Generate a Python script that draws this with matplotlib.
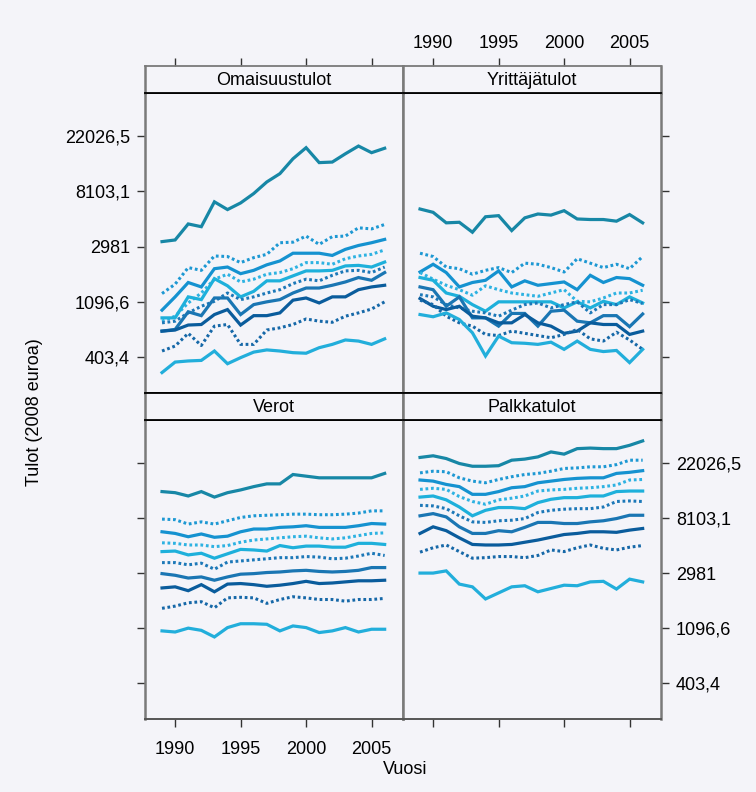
import matplotlib
matplotlib.use("Agg")
import matplotlib.pyplot as plt

plt.rcParams['font.family'] = ['Liberation Sans', 'DejaVu Sans']

years = list(range(1989, 2007))
panel_names = ["Omaisuustulot", "Yrittäjätulot", "Verot", "Palkkatulot"]

# natural log of income (2008 euros), 10 groups per panel, top line first
omaisuustulot = [
    [8.09, 8.12, 8.41, 8.36, 8.81, 8.67, 8.79, 8.96, 9.17, 9.32, 9.59, 9.79, 9.52, 9.53, 9.68, 9.82, 9.70, 9.78],
    [7.15, 7.32, 7.62, 7.57, 7.83, 7.82, 7.71, 7.80, 7.86, 8.07, 8.08, 8.19, 8.04, 8.18, 8.19, 8.34, 8.32, 8.40],
    [6.85, 7.09, 7.35, 7.27, 7.60, 7.63, 7.51, 7.57, 7.67, 7.74, 7.88, 7.88, 7.88, 7.84, 7.95, 8.02, 8.07, 8.13],
    [6.65, 6.74, 6.98, 7.16, 7.41, 7.50, 7.36, 7.41, 7.50, 7.53, 7.60, 7.71, 7.71, 7.68, 7.78, 7.83, 7.86, 7.94],
    [6.71, 6.71, 7.09, 7.04, 7.42, 7.29, 7.09, 7.19, 7.38, 7.38, 7.47, 7.56, 7.56, 7.57, 7.65, 7.66, 7.63, 7.72],
    [6.62, 6.65, 6.80, 6.92, 7.01, 7.16, 7.04, 7.09, 7.16, 7.22, 7.33, 7.41, 7.38, 7.48, 7.56, 7.57, 7.53, 7.63],
    [6.47, 6.50, 6.82, 6.75, 7.07, 7.07, 6.77, 6.95, 7.00, 7.04, 7.16, 7.25, 7.25, 7.30, 7.36, 7.44, 7.39, 7.53],
    [6.47, 6.49, 6.58, 6.59, 6.77, 6.86, 6.58, 6.75, 6.75, 6.80, 7.03, 7.07, 6.98, 7.09, 7.09, 7.22, 7.27, 7.30],
    [6.11, 6.20, 6.43, 6.21, 6.56, 6.59, 6.23, 6.23, 6.49, 6.53, 6.59, 6.69, 6.65, 6.63, 6.74, 6.80, 6.87, 7.00],
    [5.72, 5.91, 5.93, 5.94, 6.11, 5.88, 5.99, 6.09, 6.13, 6.11, 6.08, 6.07, 6.17, 6.23, 6.31, 6.29, 6.23, 6.33],
]

yrittajatulot = [
    [8.68, 8.62, 8.43, 8.44, 8.26, 8.54, 8.56, 8.29, 8.52, 8.59, 8.57, 8.65, 8.50, 8.49, 8.49, 8.46, 8.58, 8.43],
    [7.88, 7.82, 7.63, 7.60, 7.50, 7.57, 7.62, 7.53, 7.70, 7.68, 7.62, 7.54, 7.78, 7.70, 7.62, 7.68, 7.60, 7.82],
    [7.54, 7.68, 7.53, 7.27, 7.35, 7.39, 7.56, 7.27, 7.38, 7.30, 7.33, 7.36, 7.22, 7.48, 7.35, 7.44, 7.42, 7.30],
    [7.53, 7.41, 7.30, 7.22, 7.12, 7.29, 7.22, 7.16, 7.13, 7.10, 7.16, 7.22, 7.01, 7.00, 7.07, 7.16, 7.16, 7.21],
    [7.44, 7.39, 7.16, 7.10, 6.95, 6.83, 7.00, 7.00, 7.00, 7.00, 7.00, 6.89, 7.00, 6.89, 7.01, 6.95, 7.09, 6.98],
    [7.13, 7.09, 6.95, 6.89, 6.83, 6.80, 6.74, 6.85, 6.95, 6.98, 6.89, 6.95, 7.00, 6.80, 6.95, 6.95, 7.04, 6.97],
    [7.27, 7.22, 6.92, 7.09, 6.71, 6.71, 6.56, 6.79, 6.79, 6.56, 6.83, 6.85, 6.65, 6.62, 6.75, 6.75, 6.55, 6.78],
    [7.06, 6.92, 6.86, 6.92, 6.74, 6.71, 6.62, 6.62, 6.77, 6.62, 6.56, 6.43, 6.47, 6.62, 6.59, 6.59, 6.41, 6.47],
    [7.03, 6.95, 6.74, 6.62, 6.56, 6.41, 6.39, 6.47, 6.43, 6.39, 6.35, 6.41, 6.50, 6.33, 6.29, 6.45, 6.31, 6.14],
    [6.77, 6.73, 6.80, 6.68, 6.44, 6.02, 6.38, 6.26, 6.25, 6.23, 6.27, 6.14, 6.29, 6.14, 6.10, 6.12, 5.90, 6.14],
]

verot = [
    [9.48, 9.46, 9.40, 9.48, 9.38, 9.46, 9.51, 9.57, 9.62, 9.62, 9.79, 9.76, 9.73, 9.73, 9.73, 9.73, 9.73, 9.81],
    [8.98, 8.97, 8.89, 8.93, 8.89, 8.95, 9.01, 9.04, 9.05, 9.06, 9.07, 9.07, 9.06, 9.06, 9.07, 9.09, 9.13, 9.13],
    [8.75, 8.72, 8.66, 8.71, 8.65, 8.67, 8.75, 8.80, 8.80, 8.83, 8.84, 8.86, 8.83, 8.83, 8.83, 8.86, 8.90, 8.89],
    [8.55, 8.54, 8.51, 8.51, 8.48, 8.50, 8.56, 8.60, 8.62, 8.64, 8.66, 8.67, 8.64, 8.62, 8.64, 8.68, 8.72, 8.73],
    [8.39, 8.40, 8.33, 8.36, 8.27, 8.35, 8.43, 8.42, 8.40, 8.50, 8.46, 8.49, 8.49, 8.47, 8.47, 8.54, 8.54, 8.52],
    [8.19, 8.19, 8.15, 8.18, 8.07, 8.20, 8.22, 8.24, 8.26, 8.28, 8.28, 8.30, 8.29, 8.26, 8.27, 8.31, 8.36, 8.32],
    [7.99, 7.96, 7.91, 7.93, 7.87, 7.93, 7.98, 7.99, 8.01, 8.02, 8.04, 8.05, 8.03, 8.02, 8.03, 8.05, 8.10, 8.10],
    [7.73, 7.75, 7.68, 7.79, 7.66, 7.80, 7.81, 7.79, 7.76, 7.78, 7.81, 7.85, 7.81, 7.82, 7.84, 7.86, 7.86, 7.87],
    [7.36, 7.40, 7.46, 7.48, 7.37, 7.55, 7.56, 7.55, 7.45, 7.52, 7.57, 7.55, 7.52, 7.52, 7.49, 7.52, 7.52, 7.54],
    [6.95, 6.93, 7.00, 6.96, 6.84, 7.01, 7.08, 7.08, 7.07, 6.95, 7.04, 7.01, 6.92, 6.95, 7.01, 6.93, 6.98, 6.98],
]

palkkatulot = [
    [10.10, 10.13, 10.08, 9.99, 9.94, 9.94, 9.95, 10.05, 10.07, 10.11, 10.20, 10.16, 10.26, 10.27, 10.26, 10.26, 10.32, 10.40],
    [9.82, 9.85, 9.84, 9.73, 9.67, 9.64, 9.70, 9.75, 9.79, 9.81, 9.85, 9.90, 9.91, 9.93, 9.93, 9.97, 10.05, 10.05],
    [9.69, 9.67, 9.61, 9.57, 9.43, 9.43, 9.48, 9.55, 9.57, 9.64, 9.67, 9.70, 9.72, 9.73, 9.73, 9.81, 9.83, 9.86],
    [9.52, 9.54, 9.52, 9.39, 9.30, 9.25, 9.33, 9.36, 9.40, 9.49, 9.51, 9.52, 9.54, 9.55, 9.57, 9.60, 9.69, 9.70],
    [9.38, 9.40, 9.33, 9.20, 9.04, 9.14, 9.19, 9.19, 9.17, 9.28, 9.34, 9.37, 9.37, 9.40, 9.40, 9.48, 9.49, 9.49],
    [9.23, 9.22, 9.17, 9.04, 8.93, 8.92, 8.95, 8.96, 8.99, 9.10, 9.14, 9.16, 9.17, 9.17, 9.20, 9.30, 9.31, 9.30],
    [9.04, 9.08, 9.02, 8.84, 8.72, 8.72, 8.77, 8.75, 8.83, 8.92, 8.92, 8.90, 8.90, 8.93, 8.95, 8.99, 9.05, 9.05],
    [8.72, 8.84, 8.77, 8.64, 8.52, 8.51, 8.51, 8.52, 8.56, 8.60, 8.65, 8.70, 8.72, 8.75, 8.75, 8.74, 8.78, 8.81],
    [8.38, 8.46, 8.51, 8.39, 8.27, 8.28, 8.30, 8.30, 8.28, 8.32, 8.42, 8.39, 8.46, 8.51, 8.45, 8.42, 8.47, 8.50],
    [8.00, 8.00, 8.04, 7.80, 7.75, 7.53, 7.64, 7.75, 7.77, 7.66, 7.72, 7.78, 7.77, 7.84, 7.85, 7.71, 7.89, 7.84],
]

series_colors = ['#1787a6', '#1d98d3', '#1592d0', '#2db2e2', '#1eb0db',
                 '#1c78b8', '#1a76b3', '#0a5c9c', '#1668a8', '#22aedb']
series_dotted = [False, True, False, True, False, True, False, False, True, False]

ytick_pos = [6, 7, 8, 9, 10]
ytick_labels = ['403,4', '1096,6', '2981', '8103,1', '22026,5']
xtick_pos = [1990, 1995, 2000, 2005]

BG = '#f4f4f9'
W, H = 756, 792
fig = plt.figure(figsize=(W / 100, H / 100), dpi=100, facecolor=BG)


def rect(x0, y0, x1, y1):
    return [x0 / W, 1 - y1 / H, (x1 - x0) / W, (y1 - y0) / H]


FS = 13
GREY = '#7a7a7a'
TICKLEN = 5.8
XLIM = (1987.7, 2007.4)
YLIM = (5.35, 10.78)

layout = {
    "Omaisuustulot": dict(panel=(145, 93, 403, 393), strip=(145, 66, 403, 93), pos='TL', data=omaisuustulot),
    "Yrittäjätulot": dict(panel=(403, 93, 661, 393), strip=(403, 66, 661, 93), pos='TR', data=yrittajatulot),
    "Verot": dict(panel=(145, 420, 403, 719), strip=(145, 393, 403, 420), pos='BL', data=verot),
    "Palkkatulot": dict(panel=(403, 420, 661, 719), strip=(403, 393, 661, 420), pos='BR', data=palkkatulot),
}

for name in panel_names:
    cfg = layout[name]
    pos = cfg['pos']
    ax = fig.add_axes(rect(*cfg['panel']))
    ax.set_facecolor(BG)
    for vals, col, dot in zip(cfg['data'], series_colors, series_dotted):
        if dot:
            ax.plot(years, vals, color=col, lw=2.2, linestyle=(0, (0.9, 0.9)))
        else:
            ax.plot(years, vals, color=col, lw=2.3, solid_joinstyle='miter')
    ax.set_xlim(*XLIM)
    ax.set_ylim(*YLIM)
    for s in ['left', 'right']:
        ax.spines[s].set_color(GREY)
        ax.spines[s].set_linewidth(1.8)
    ax.spines['top'].set_color('black')
    ax.spines['top'].set_linewidth(1.3)
    if pos in ('TL', 'TR'):
        ax.spines['bottom'].set_color('black')
        ax.spines['bottom'].set_linewidth(1.3)
    else:
        ax.spines['bottom'].set_color('#555555')
        ax.spines['bottom'].set_linewidth(1.4)

    ax.set_yticks(ytick_pos)
    ax.set_xticks(xtick_pos)
    left = pos in ('TL', 'BL')
    bottom = pos in ('BL', 'BR')
    ax.tick_params(axis='y', direction='out', length=TICKLEN, width=1.0, color='#333333',
                   left=left, right=not left, labelleft=(pos == 'TL'), labelright=(pos == 'BR'),
                   labelsize=FS, pad=5)
    ax.tick_params(axis='x', direction='out', length=TICKLEN, width=1.0, color='#333333',
                   bottom=bottom, top=False, labelbottom=(pos == 'BL'), labeltop=False,
                   labelsize=FS, pad=10)
    ax.set_yticklabels(ytick_labels)
    ax.set_xticklabels([str(v) for v in xtick_pos])

    # strip
    sax = fig.add_axes(rect(*cfg['strip']))
    sax.set_facecolor(BG)
    sax.set_xlim(*XLIM)
    sax.set_ylim(0, 1)
    sax.set_yticks([])
    sax.set_xticks(xtick_pos)
    top = pos in ('TL', 'TR')
    sax.tick_params(axis='x', direction='out', length=TICKLEN, width=1.0, color='#333333',
                    top=top, bottom=False, labeltop=(pos == 'TR'), labelbottom=False,
                    labelsize=FS, pad=4)
    sax.set_xticklabels([str(v) for v in xtick_pos])
    for s in ['left', 'right']:
        sax.spines[s].set_color(GREY)
        sax.spines[s].set_linewidth(1.8)
    sax.spines['bottom'].set_color('black')
    sax.spines['bottom'].set_linewidth(1.3)
    sax.spines['top'].set_color(GREY if top else 'black')
    sax.spines['top'].set_linewidth(1.3)
    sax.text(0.5, 0.47, name, transform=sax.transAxes, ha='center', va='center', fontsize=FS)

fig.text(35 / W, 1 - 412 / H, 'Tulot (2008 euroa)', rotation=90, ha='center', va='center', fontsize=FS)
fig.text(405 / W, 1 - 769 / H, 'Vuosi', ha='center', va='center', fontsize=FS)

fig.savefig('out.png', dpi=100, facecolor=BG)
